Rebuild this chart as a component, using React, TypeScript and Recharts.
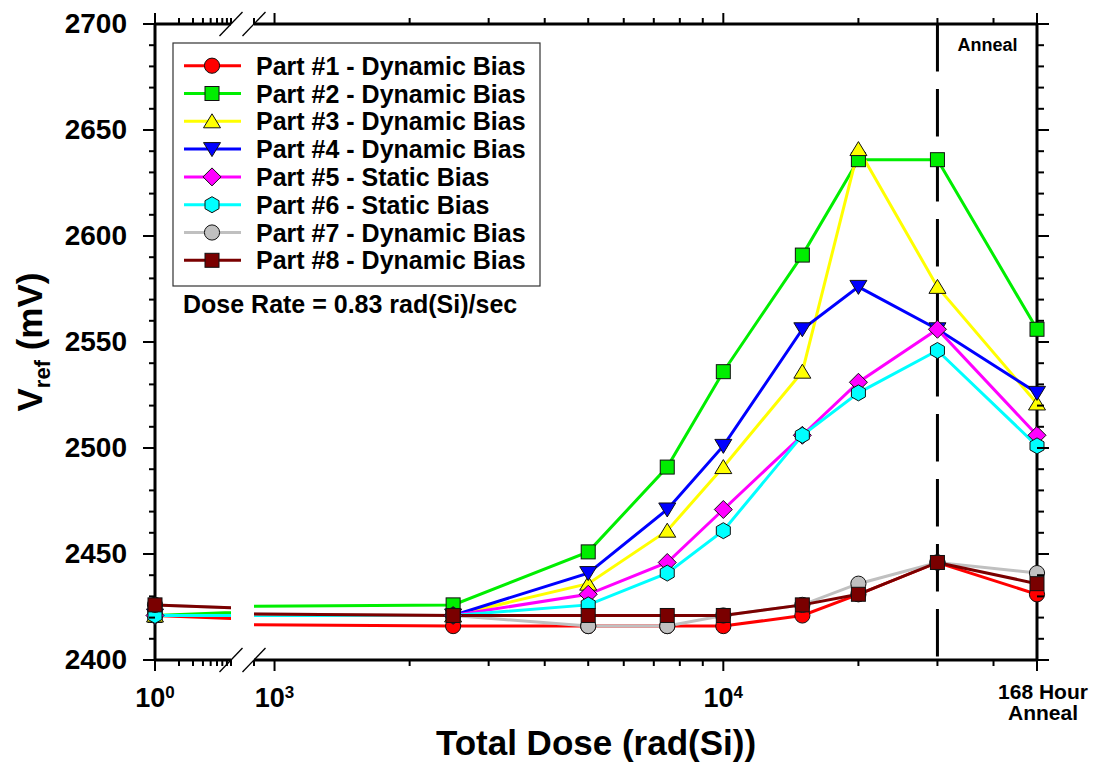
import React from "react";
import { LineChart, Line, XAxis, YAxis, ReferenceLine, Legend } from "recharts";

// total dose steps (rad(Si)); the last reading is the 168 hour anneal, plotted at the end of the axis
const doses = [1, 2500, 5000, 7500, 10000, 15000, 20000, 30000, 50000];

// Vref readings (mV) per part
const part1 = [2421, 2416, 2416, 2416, 2416, 2421, 2431, 2446, 2431];
const part2 = [2421, 2426, 2451, 2491, 2536, 2591, 2636, 2636, 2556];
const part3 = [2421, 2421, 2436, 2461, 2491, 2536, 2641, 2576, 2521];
const part4 = [2421, 2421, 2441, 2471, 2501, 2556, 2576, 2556, 2526];
const part5 = [2421, 2421, 2431, 2446, 2471, 2506, 2531, 2556, 2506];
const part6 = [2421, 2421, 2426, 2441, 2461, 2506, 2526, 2546, 2501];
const part7 = [2426, 2421, 2416, 2416, 2421, 2426, 2436, 2446, 2441];
const part8 = [2426, 2421, 2421, 2421, 2421, 2426, 2431, 2446, 2436];

const seriesNames = [
  "Part #1 - Dynamic Bias",
  "Part #2 - Dynamic Bias",
  "Part #3 - Dynamic Bias",
  "Part #4 - Dynamic Bias",
  "Part #5 - Static Bias",
  "Part #6 - Static Bias",
  "Part #7 - Dynamic Bias",
  "Part #8 - Dynamic Bias",
];
const seriesColors = ["#ff0000", "#00ee00", "#ffff00", "#0000ff", "#ff00ff", "#00ffff", "#c0c0c0", "#7a0000"];
const seriesShapes = ["circle", "square", "triangle", "triangleDown", "diamond", "hexagon", "circle", "square"];
const seriesValues = [part1, part2, part3, part4, part5, part6, part7, part8];

const yMajorTicks = [2400, 2450, 2500, 2550, 2600, 2650, 2700];
const yTicks = Array.from({ length: 31 }, (_, i) => 2400 + i * 10);

const leftTicks = [1, 2, 3, 4, 5, 6, 7, 8, 9];
const rightTicks = [900, 1000, 2000, 3000, 4000, 5000, 6000, 7000, 8000, 9000, 10000, 20000, 30000, 40000, 50000];
const xMajorTicks = [1, 1000, 10000, 50000];
const powerLabels: Record<number, string> = { 1: "0", 1000: "3", 10000: "4" };
const annealLabel = ["168 Hour", "Anneal"];
const annealStart = 30000;

const FONT = "'Liberation Sans', Arial, Helvetica, sans-serif";
const W = 1097;
const H = 766;
const PLOT_TOP = 24;
const PLOT_BOTTOM = 660;
const LEFT_X0 = 155;
const LEFT_X1 = 231;
const RIGHT_X0 = 254;
const RIGHT_X1 = 1037;

const SERIES = seriesNames.map((name, i) => ({
  key: `p${i + 1}`,
  name,
  color: seriesColors[i],
  shape: seriesShapes[i],
}));

const rows = doses.map((dose, i) => {
  const row: Record<string, number> = { dose };
  seriesValues.forEach((vals, s) => {
    row[`p${s + 1}`] = vals[i];
  });
  return row;
});
const leftMarkerRows = rows.filter((r) => r.dose <= 9);
const rightMarkerRows = rows.filter((r) => r.dose >= 900);

function Marker({ shape, cx, cy, fill }: { shape: string; cx: number; cy: number; fill: string }) {
  const st = { fill, stroke: "#111", strokeWidth: 1 };
  switch (shape) {
    case "circle":
      return <circle cx={cx} cy={cy} r={7.6} {...st} />;
    case "square":
      return <rect x={cx - 7} y={cy - 7} width={14} height={14} {...st} />;
    case "triangle":
      return <polygon points={`${cx},${cy - 7.5} ${cx + 8.5},${cy + 6.5} ${cx - 8.5},${cy + 6.5}`} {...st} />;
    case "triangleDown":
      return <polygon points={`${cx},${cy + 7.5} ${cx + 8.5},${cy - 6.5} ${cx - 8.5},${cy - 6.5}`} {...st} />;
    case "diamond":
      return <polygon points={`${cx},${cy - 9} ${cx + 9},${cy} ${cx},${cy + 9} ${cx - 9},${cy}`} {...st} />;
    default:
      return (
        <polygon
          points={`${cx},${cy - 8} ${cx + 7},${cy - 4} ${cx + 7},${cy + 4} ${cx},${cy + 8} ${cx - 7},${cy + 4} ${cx - 7},${cy - 4}`}
          {...st}
        />
      );
  }
}

function BottomTick({ x, y, payload }: any) {
  const v = payload.value;
  const major = xMajorTicks.includes(v);
  return (
    <g>
      <line x1={x} x2={x} y1={y} y2={y + (major ? 11 : 6)} stroke="#000" strokeWidth={2} />
      {powerLabels[v] !== undefined && (
        <text x={x} y={y + 47} textAnchor="middle" fontSize={27} fontWeight="bold" fontFamily={FONT} fill="#000">
          10
          <tspan fontSize={17} dy={-9}>
            {powerLabels[v]}
          </tspan>
        </text>
      )}
      {v === 50000 && (
        <text x={x + 6} y={y + 39} textAnchor="middle" fontSize={21} fontWeight="bold" fontFamily={FONT} fill="#000">
          <tspan x={x + 6}>{annealLabel[0]}</tspan>
          <tspan x={x + 6} dy={21}>
            {annealLabel[1]}
          </tspan>
        </text>
      )}
    </g>
  );
}

function TopTick({ x, y, payload }: any) {
  const major = xMajorTicks.includes(payload.value);
  return <line x1={x} x2={x} y1={y} y2={y - (major ? 11 : 6)} stroke="#000" strokeWidth={2} />;
}

function LeftTick({ x, y, payload }: any) {
  const major = yMajorTicks.includes(payload.value);
  return (
    <g>
      <line x1={x - (major ? 12 : 6)} x2={x} y1={y} y2={y} stroke="#000" strokeWidth={2} />
      {major && (
        <text x={x - 28} y={y + 9} textAnchor="end" fontSize={28} fontWeight="bold" fontFamily={FONT} fill="#000">
          {payload.value}
        </text>
      )}
    </g>
  );
}

function RightTick({ x, y, payload }: any) {
  const major = yMajorTicks.includes(payload.value);
  return <line x1={x} x2={x + (major ? 12 : 7)} y1={y} y2={y} stroke="#000" strokeWidth={2} />;
}

function YTitle() {
  const cx = 42;
  const cy = 342;
  return (
    <text
      x={cx}
      y={cy}
      transform={`rotate(-90, ${cx}, ${cy})`}
      textAnchor="middle"
      fontSize={35}
      fontWeight="bold"
      fontFamily={FONT}
      fill="#000"
    >
      V
      <tspan fontSize={22} dy={8}>
        ref
      </tspan>
      <tspan dy={-8}> (mV)</tspan>
    </text>
  );
}

function XTitle() {
  return (
    <text
      x={(LEFT_X0 + RIGHT_X1) / 2}
      y={755}
      textAnchor="middle"
      fontSize={35}
      fontWeight="bold"
      fontFamily={FONT}
      fill="#000"
    >
      Total Dose (rad(Si))
    </text>
  );
}

function AnnealText({ viewBox }: any) {
  return (
    <text x={viewBox.x + 50} y={viewBox.y + 27} textAnchor="middle" fontSize={18} fontWeight="bold" fontFamily={FONT} fill="#000">
      Anneal
    </text>
  );
}

function LegendBox() {
  return (
    <svg width={380} height={290} style={{ display: "block", overflow: "visible" }}>
      <rect x={1} y={1} width={367} height={243} fill="#fff" stroke="#333" strokeWidth={1.2} />
      {SERIES.map((s, i) => {
        const cy = 23.7 + i * 27.8;
        return (
          <g key={s.key}>
            <line x1={12} x2={69} y1={cy} y2={cy} stroke={s.color} strokeWidth={3} />
            <Marker shape={s.shape} cx={40} cy={cy} fill={s.color} />
            <text x={84} y={cy + 9} fontSize={25} fontWeight="bold" fontFamily={FONT} fill="#000">
              {s.name}
            </text>
          </g>
        );
      })}
      <text x={11} y={271} fontSize={25} fontWeight="bold" fontFamily={FONT} fill="#000">
        Dose Rate = 0.83 rad(Si)/sec
      </text>
    </svg>
  );
}

function renderSeries(markerRows: Record<string, number>[]) {
  return SERIES.flatMap((s) => [
    <Line
      key={`${s.key}-line`}
      xAxisId="x"
      dataKey={s.key}
      name={s.name}
      stroke={s.color}
      strokeWidth={3}
      dot={false}
      activeDot={false}
      isAnimationActive={false}
    />,
    <Line
      key={`${s.key}-marks`}
      xAxisId="m"
      data={markerRows}
      dataKey={s.key}
      stroke="none"
      legendType="none"
      activeDot={false}
      isAnimationActive={false}
      dot={(p: any) => <Marker key={`${s.key}-${p.index}`} shape={s.shape} cx={p.cx} cy={p.cy} fill={s.color} />}
    />,
  ]);
}

const axisLine = { stroke: "#000", strokeWidth: 3 };

export default function App() {
  return (
    <div style={{ position: "fixed", left: 0, top: 0, width: W, height: H, background: "#fff", overflow: "hidden" }}>
      <div style={{ position: "absolute", left: 0, top: 0 }}>
        <LineChart width={W} height={H} data={rows} margin={{ top: 0, right: W - LEFT_X1, bottom: 0, left: 0 }}>
          <XAxis xAxisId="m" dataKey="dose" type="number" scale="log" domain={[1, 9]} hide height={0} />
          <XAxis
            xAxisId="x"
            dataKey="dose"
            type="number"
            scale="log"
            domain={[1, 9]}
            allowDataOverflow
            ticks={leftTicks}
            interval={0}
            tickSize={0}
            tickMargin={0}
            tickLine={false}
            axisLine={axisLine}
            height={H - PLOT_BOTTOM}
            tick={<BottomTick />}
          />
          <XAxis
            xAxisId="top"
            orientation="top"
            dataKey="dose"
            type="number"
            scale="log"
            domain={[1, 9]}
            allowDataOverflow
            ticks={leftTicks}
            interval={0}
            tickSize={0}
            tickMargin={0}
            tickLine={false}
            axisLine={axisLine}
            height={PLOT_TOP}
            tick={<TopTick />}
          />
          <YAxis
            type="number"
            domain={[2400, 2700]}
            ticks={yTicks}
            interval={0}
            tickSize={0}
            tickMargin={0}
            tickLine={false}
            axisLine={axisLine}
            width={LEFT_X0}
            tick={<LeftTick />}
            label={<YTitle />}
          />
          {renderSeries(leftMarkerRows)}
        </LineChart>
      </div>
      <div style={{ position: "absolute", left: 0, top: 0 }}>
        <LineChart width={W} height={H} data={rows} margin={{ top: 0, right: W - RIGHT_X1 - 20, bottom: 0, left: RIGHT_X0 }}>
          <XAxis xAxisId="m" dataKey="dose" type="number" scale="log" domain={[900, 50000]} hide height={0} />
          <XAxis
            xAxisId="x"
            dataKey="dose"
            type="number"
            scale="log"
            domain={[900, 50000]}
            allowDataOverflow
            ticks={rightTicks}
            interval={0}
            tickSize={0}
            tickMargin={0}
            tickLine={false}
            axisLine={axisLine}
            height={H - PLOT_BOTTOM}
            tick={<BottomTick />}
            label={<XTitle />}
          />
          <XAxis
            xAxisId="top"
            orientation="top"
            dataKey="dose"
            type="number"
            scale="log"
            domain={[900, 50000]}
            allowDataOverflow
            ticks={rightTicks}
            interval={0}
            tickSize={0}
            tickMargin={0}
            tickLine={false}
            axisLine={axisLine}
            height={PLOT_TOP}
            tick={<TopTick />}
          />
          <YAxis
            orientation="right"
            type="number"
            domain={[2400, 2700]}
            ticks={yTicks}
            interval={0}
            tickSize={0}
            tickMargin={0}
            tickLine={false}
            axisLine={axisLine}
            width={20}
            tick={<RightTick />}
          />
          {renderSeries(rightMarkerRows)}
          <ReferenceLine
            xAxisId="x"
            segment={[
              { x: annealStart, y: 2700 },
              { x: annealStart, y: 2400 },
            ]}
            stroke="#000"
            strokeWidth={3}
            strokeDasharray="47.5 17.5"
            label={<AnnealText />}
          />
          <Legend
            layout="horizontal"
            verticalAlign="middle"
            align="center"
            content={<LegendBox />}
            wrapperStyle={{ left: 172, top: 42, width: 380, height: 290 }}
          />
        </LineChart>
      </div>
      <svg width={W} height={H} style={{ position: "absolute", left: 0, top: 0, pointerEvents: "none" }}>
        {[LEFT_X1, RIGHT_X0].flatMap((bx) =>
          [PLOT_TOP, PLOT_BOTTOM].map((by) => (
            <line key={`${bx}-${by}`} x1={bx - 11.5} y1={by + 12} x2={bx + 11.5} y2={by - 12} stroke="#000" strokeWidth={1.3} />
          ))
        )}
      </svg>
    </div>
  );
}
